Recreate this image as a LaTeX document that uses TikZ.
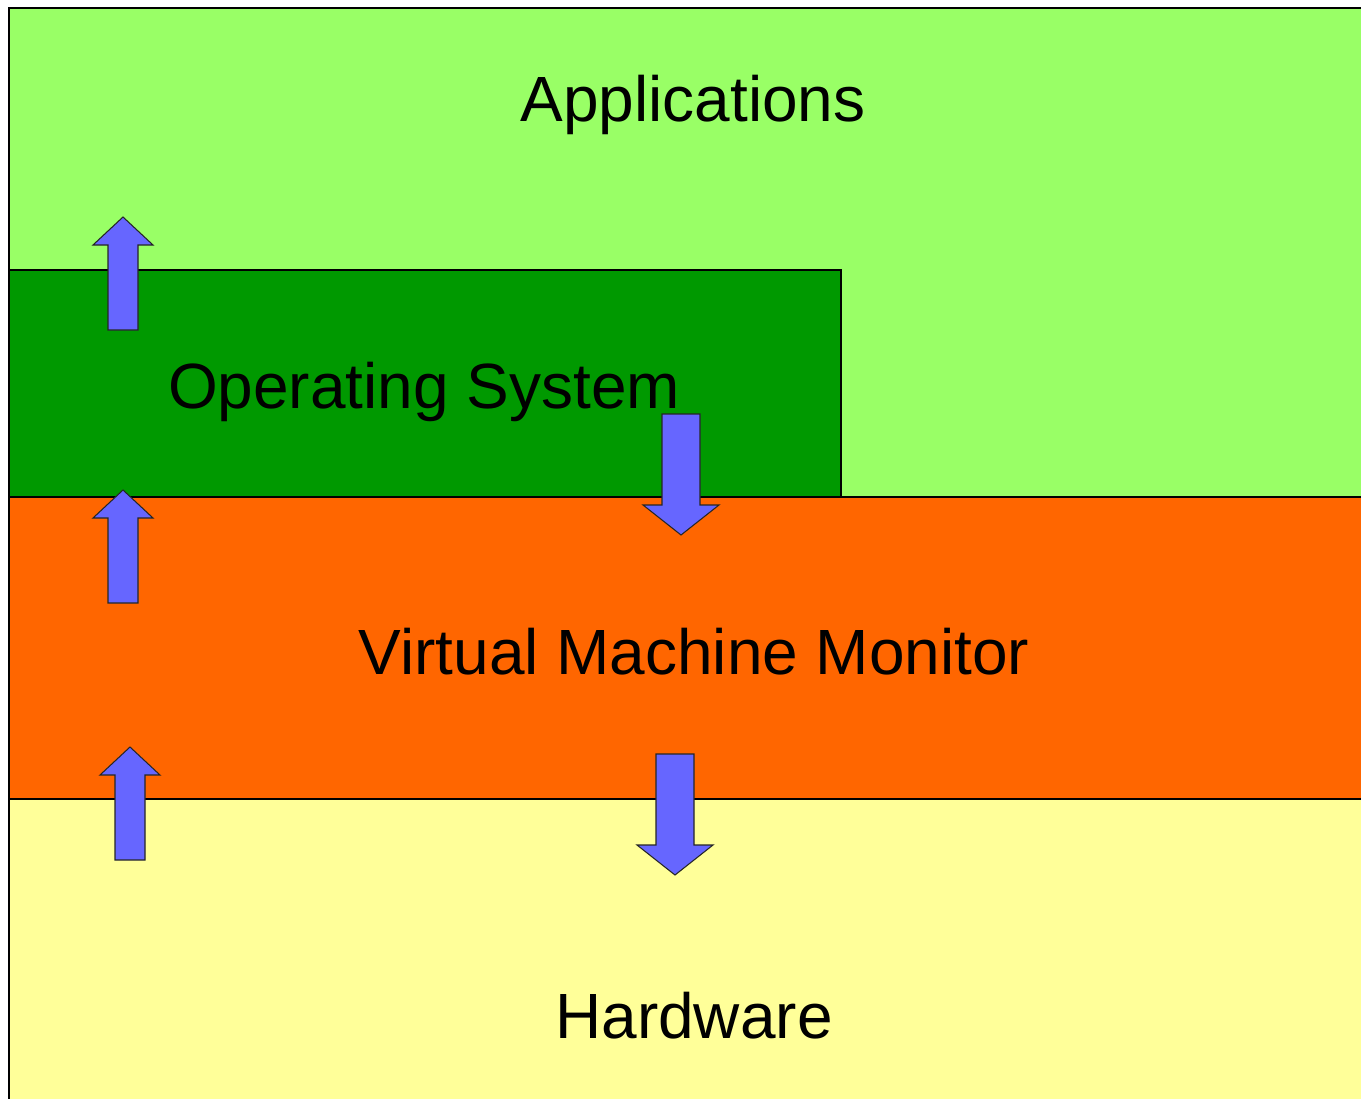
\documentclass[tikz,border=0pt]{standalone}
\usepackage{fontspec}
\setmainfont{Liberation Sans}
\usetikzlibrary{positioning}
\definecolor{appgreen}{HTML}{99FF66}
\definecolor{osgreen}{HTML}{009900}
\definecolor{vmmorange}{HTML}{FF6600}
\definecolor{hwyellow}{HTML}{FFFF99}
\definecolor{arrowblue}{HTML}{6666FF}

\begin{document}
\begin{tikzpicture}[
    x=0.02cm, y=-0.02cm,
    layer/.style={draw=black, line width=0.6pt},
    label/.style={font=\fontsize{36.4}{40}\selectfont, anchor=base, inner sep=0pt},
    blockarrow/.style={draw=black!85, fill=arrowblue, line width=0.6pt, line join=miter},
]
\useasboundingbox (0,0) rectangle (1361,1098);
\fill[white] (0,0) rectangle (1361,1098);
\clip (0,0) rectangle (1361,1098);

% Layers
\filldraw[layer, fill=appgreen] (9,8) rectangle (1380,497);
\filldraw[layer, fill=osgreen] (9,270) rectangle (841,497);
\filldraw[layer, fill=vmmorange] (9,497) rectangle (1380,799);
\filldraw[layer, fill=hwyellow] (9,799) rectangle (1380,1120);

\node[label] (apps) at (693,122) {Applications};
\node[label] (os) at (424,408) {Operating System};
\node[label] (vmm) at (694,674) {Virtual Machine Monitor};
\node[label] (hw) at (694,1038) {Hardware};

% Up arrows
\draw[blockarrow] (123,217) -- (153,245) -- (138,245) -- (138,330) -- (108,330) -- (108,245) -- (93,245) -- cycle;
\draw[blockarrow] (123,490) -- (153,518) -- (138,518) -- (138,603) -- (108,603) -- (108,518) -- (93,518) -- cycle;
\draw[blockarrow] (130,747) -- (160,775) -- (145,775) -- (145,860) -- (115,860) -- (115,775) -- (100,775) -- cycle;

% Down arrows
\draw[blockarrow] (681,535) -- (719,505) -- (700,505) -- (700,414) -- (662,414) -- (662,505) -- (643,505) -- cycle;
\draw[blockarrow] (675,875) -- (713,845) -- (694,845) -- (694,754) -- (656,754) -- (656,845) -- (637,845) -- cycle;

\end{tikzpicture}
\end{document}
